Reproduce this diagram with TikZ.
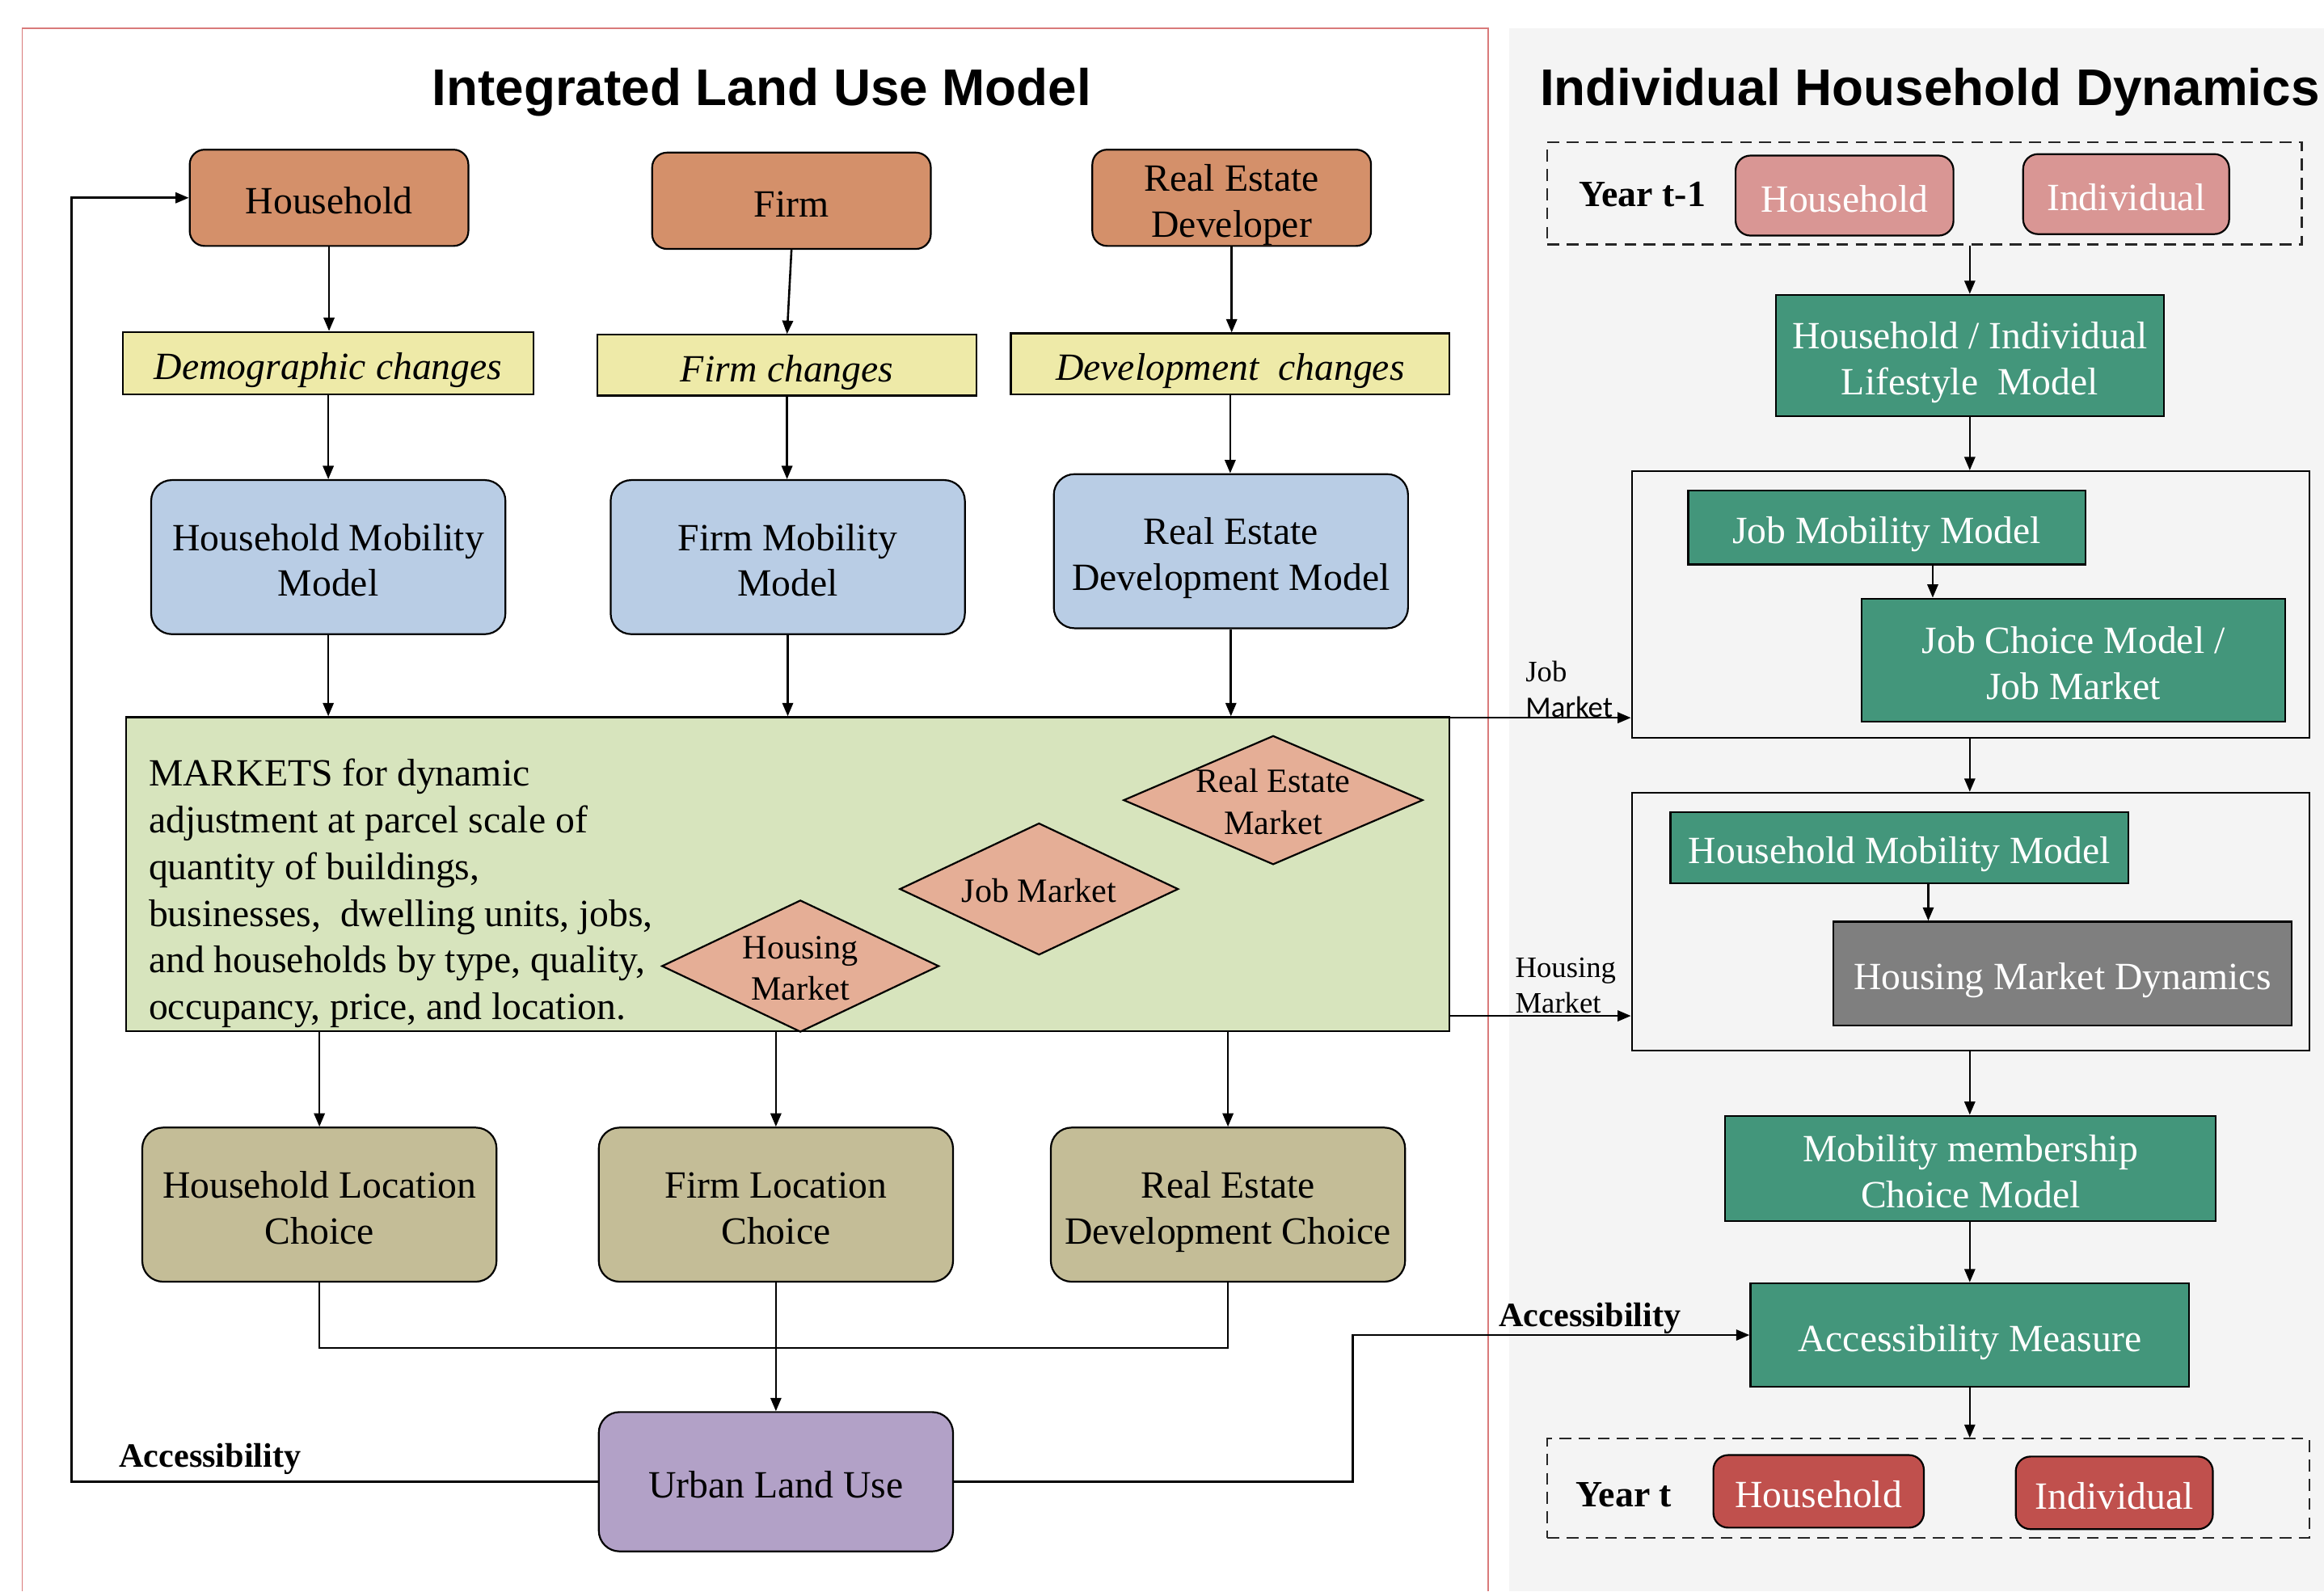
\documentclass[tikz,border=0pt]{standalone}
\usepackage{fontspec}
\setmainfont{Liberation Serif}
\newfontfamily\titlesans{Liberation Sans}
\newfontfamily\calib{Carlito}
\usetikzlibrary{shapes.geometric,arrows.meta,calc}
\definecolor{cOrange}{HTML}{D4906A}
\definecolor{cYellow}{HTML}{EEEAA8}
\definecolor{cBlue}{HTML}{B9CDE5}
\definecolor{cMarket}{HTML}{D7E4BD}
\definecolor{cSalmon}{HTML}{E5AE96}
\definecolor{cTan}{HTML}{C4BD97}
\definecolor{cPurple}{HTML}{B2A1C7}
\definecolor{cPink}{HTML}{D99694}
\definecolor{cTeal}{HTML}{43967B}
\definecolor{cGray}{HTML}{7F7F7F}
\definecolor{cRed}{HTML}{C0504D}
\definecolor{cPanel}{HTML}{F4F4F4}
\definecolor{cFrame}{HTML}{D97A7A}
\newcommand\diamtext[1]{\makebox[0pt]{\raisebox{-9.3pt}{\smash{\begin{tabular}{@{}c@{}}#1\end{tabular}}}}}
\tikzset{
  base/.style={draw=black, line width=0.6pt, inner sep=0pt, align=center, font=\fontsize{13}{15.5}\selectfont, text height=11.5pt, text depth=0.5pt},
  two/.style={text height=27pt},
  orangebox/.style={base, fill=cOrange, rounded corners=5pt},
  yellowbox/.style={base, fill=cYellow, font=\fontsize{13}{15.5}\selectfont\itshape},
  bluebox/.style={base, fill=cBlue, rounded corners=7pt},
  tanbox/.style={base, fill=cTan, rounded corners=7pt},
  purplebox/.style={base, fill=cPurple, rounded corners=7pt},
  marketbox/.style={draw=black, line width=0.6pt, fill=cMarket, inner sep=0pt},
  diam/.style={diamond, draw=black, line width=0.6pt, fill=cSalmon, inner sep=0pt, font=\fontsize{11.5}{14}\selectfont},
  pinkbox/.style={base, fill=cPink, text=white, rounded corners=5pt},
  redbox/.style={base, fill=cRed, text=white, rounded corners=5pt},
  tealbox/.style={base, fill=cTeal, text=white},
  graybox/.style={base, fill=cGray, text=white},
  container/.style={draw=black, line width=0.6pt, fill=cPanel, inner sep=0pt},
  dashbox/.style={draw=black!85, line width=0.6pt, dash pattern=on 4pt off 2.5pt, inner sep=0pt},
  arr/.style={line width=0.7pt, -{Triangle[length=4.5pt,width=3.6pt]}},
  ln/.style={line width=0.7pt},
  title/.style={font=\titlesans\bfseries\fontsize{17.4}{20}\selectfont, anchor=base, inner sep=0pt},
  boldlabel/.style={font=\bfseries\fontsize{11.5}{13}\selectfont, inner sep=0pt},
  yearlabel/.style={font=\bfseries\fontsize{12.5}{14}\selectfont, inner sep=0pt, anchor=west},
  smalllabel/.style={font=\fontsize{10}{12}\selectfont, inner sep=0pt, align=left, anchor=west},
}
\begin{document}
\begin{tikzpicture}[x=0.5pt,y=-0.5pt]
\useasboundingbox (0,0) rectangle (1568,1074);
% panels
\fill[cPanel] (1018,19) rectangle (1568,1074);
\draw[cFrame, line width=0.5pt] (15,1074) -- (15,19) -- (1004,19) -- (1004,1074);
\node[title] (t1) at (514,71) {Integrated Land Use Model};
\node[title] (t2) at (1302,71) {Individual Household Dynamics};

% row 1
\node[orangebox, minimum width=94pt, minimum height=32.5pt] (hh) at (222,133.5) {Household};
\node[orangebox, minimum width=94pt, minimum height=32.5pt] (firm) at (534,135.5) {Firm};
\node[orangebox, two, minimum width=94pt, minimum height=32.5pt] (red) at (831,133.5) {Real Estate\\Developer};
% row 2
\node[yellowbox, minimum width=138.5pt, minimum height=21pt] (demo) at (221.5,245) {Demographic changes};
\node[yellowbox, minimum width=128pt, minimum height=20.5pt] (fch) at (531,246.5) {Firm changes};
\node[yellowbox, minimum width=148pt, minimum height=20.5pt] (dch) at (830,245.5) {Development\ \ changes};
% row 3
\node[bluebox, two, minimum width=119.5pt, minimum height=52pt] (hmm) at (221.5,376) {Household Mobility\\Model};
\node[bluebox, two, minimum width=119.5pt, minimum height=52pt] (fmm) at (531.5,376) {Firm Mobility\\Model};
\node[bluebox, two, minimum width=119.5pt, minimum height=52pt] (redm) at (830.5,372) {Real Estate\\Development Model};
% markets
\node[marketbox, minimum width=446.5pt, minimum height=106pt] (markets) at (531.5,590) {};
\node[inner sep=0pt, anchor=west, align=left, font=\fontsize{13}{15.75}\selectfont] (mtext) at (100,603)
  {MARKETS for dynamic\\adjustment at parcel scale of\\quantity of buildings,\\businesses,\ \ dwelling units, jobs,\\and households by type, quality,\\occupancy, price, and location.};
\node[diam, minimum width=101pt, minimum height=43.5pt] (rem) at (859,540) {\diamtext{Real Estate\\Market}};
\node[diam, minimum width=94pt, minimum height=44.5pt] (jm) at (701,600) {\diamtext{Job Market}};
\node[diam, minimum width=93.5pt, minimum height=44.5pt] (hm) at (540,652) {\diamtext{Housing\\Market}};
% row 4
\node[tanbox, two, minimum width=119.5pt, minimum height=52pt] (hlc) at (215.5,813) {Household Location\\Choice};
\node[tanbox, two, minimum width=119.5pt, minimum height=52pt] (flc) at (523.5,813) {Firm Location\\Choice};
\node[tanbox, two, minimum width=119.5pt, minimum height=52pt] (redc) at (828.5,813) {Real Estate\\Development Choice};
% urban
\node[purplebox, minimum width=119.5pt, minimum height=47pt] (urban) at (523.5,1000) {Urban Land Use};

% left arrows
\draw[arr] (hh.south) -- (demo.north -| hh.south);
\draw[arr] (firm.south) -- (fch.north);
\draw[arr] (red.south) -- (dch.north -| red.south);
\draw[arr] (demo.south) -- (hmm.north -| demo.south);
\draw[arr] (fch.south) -- (fmm.north -| fch.south);
\draw[arr] (dch.south) -- (redm.north -| dch.south);
\draw[arr] (hmm.south) -- (hmm.south |- markets.north);
\draw[arr] (fmm.south) -- (fmm.south |- markets.north);
\draw[arr] (redm.south) -- (redm.south |- markets.north);
\draw[arr] (hlc.north |- markets.south) -- (hlc.north);
\draw[arr] (flc.north |- markets.south) -- (flc.north);
\draw[arr] (redc.north |- markets.south) -- (redc.north);
\draw[ln] (hlc.south) -- ++(0,44) -| (redc.south);
\draw[arr] (flc.south) -- (urban.north);
\draw[arr] (urban.west) -- ++(-355,0) |- (hh.west);
\node[boldlabel, anchor=base west] (acc1) at (80,990) {Accessibility};

% right column
\node[dashbox, minimum width=254.5pt, minimum height=34.5pt] (yearA) at (1298.5,130.5) {};
\node[yearlabel] (ya) at (1065,131) {Year t-1};
\node[pinkbox, minimum width=73.5pt, minimum height=27pt] (phh) at (1244.5,132) {Household};
\node[pinkbox, minimum width=69.5pt, minimum height=27pt] (pind) at (1434.5,131) {Individual};
\node[tealbox, two, minimum width=131pt, minimum height=41pt] (life) at (1329,240) {Household / Individual\\Lifestyle\ \ Model};
\node[container, minimum width=228.5pt, minimum height=90pt] (jobbox) at (1329.5,408) {};
\node[tealbox, minimum width=134pt, minimum height=25pt] (jmm) at (1273,356) {Job Mobility Model};
\node[tealbox, two, minimum width=143pt, minimum height=41.5pt] (jcm) at (1399,445.5) {Job Choice Model /\\Job Market};
\node[container, minimum width=228.5pt, minimum height=87pt] (housebox) at (1329.5,622) {};
\node[tealbox, minimum width=154.5pt, minimum height=24pt] (rhmm) at (1281.5,572) {Household Mobility Model};
\node[graybox, minimum width=154.5pt, minimum height=35pt] (hmd) at (1391.5,657) {Housing Market Dynamics};
\node[tealbox, two, minimum width=165.5pt, minimum height=35.5pt] (mmc) at (1329.5,788.5) {Mobility membership\\Choice Model};
\node[tealbox, minimum width=148pt, minimum height=35pt] (accm) at (1329,901) {Accessibility Measure};
\node[dashbox, minimum width=257pt, minimum height=33.5pt] (yearB) at (1301,1004.5) {};
\node[yearlabel] (yb) at (1063,1009) {Year t};
\node[redbox, minimum width=71pt, minimum height=24.5pt] (rhh) at (1227,1006.5) {Household};
\node[redbox, minimum width=66.5pt, minimum height=24.5pt] (rind) at (1426.5,1007.5) {Individual};

\draw[arr] (life.north |- yearA.south) -- (life.north);
\draw[arr] (life.south) -- (life.south |- jobbox.north);
\coordinate (jmA) at ($(jmm.south)+(31,0)$);
\draw[arr] (jmA) -- (jmA |- jcm.north);
\draw[arr] (life.south |- jobbox.south) -- (life.south |- housebox.north);
\coordinate (hmA) at ($(rhmm.south)+(19.5,0)$);
\draw[arr] (hmA) -- (hmA |- hmd.north);
\draw[arr] (life.south |- housebox.south) -- (life.south |- mmc.north);
\draw[arr] (life.south |- mmc.south) -- (accm.north);
\draw[arr] (accm.south) -- (accm.south |- yearB.north);

% cross connectors
\coordinate (mkJ) at ($(markets.north east)+(0,1)$);
\draw[arr] (mkJ) -- (mkJ -| jobbox.west);
\node[smalllabel] (lj) at (1029,465) {Job\\{\calib Market}};
\coordinate (mkH) at ($(markets.south east)+(0,-11)$);
\draw[arr] (mkH) -- (mkH -| housebox.west);
\node[smalllabel] (lh) at (1022,665) {Housing\\Market};
\draw[arr] (urban.east) -- ++(269,0) |- (accm.west);
\node[boldlabel, anchor=base west] (acc2) at (1011,895) {Accessibility};
\end{tikzpicture}
\end{document}
